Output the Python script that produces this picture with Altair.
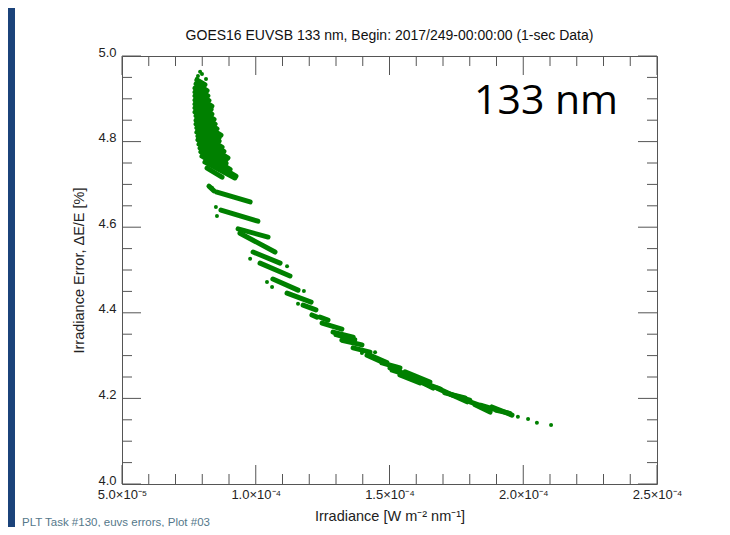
import json
import altair as alt
import pandas as pd

# ---------------- text ----------------
TITLE = "GOES16 EUVSB 133 nm, Begin: 2017/249-00:00:00 (1-sec Data)"
X_TITLE = "Irradiance [W m⁻² nm⁻¹]"
Y_TITLE = "Irradiance Error, ΔE/E [%]"
FOOTER = "PLT Task #130, euvs errors, Plot #03"
BIG_LABEL = "133 nm"

# ---------------- ticks ----------------
x_major = [5e-5, 1.0e-4, 1.5e-4, 2.0e-4, 2.5e-4]
x_major_labels = ["5.0×10⁻⁵", "1.0×10⁻⁴", "1.5×10⁻⁴", "2.0×10⁻⁴", "2.5×10⁻⁴"]
x_minor = [6e-5, 7e-5, 8e-5, 9e-5, 1.1e-4, 1.2e-4, 1.3e-4, 1.4e-4,
           1.6e-4, 1.7e-4, 1.8e-4, 1.9e-4, 2.1e-4, 2.2e-4, 2.3e-4, 2.4e-4]
y_major = [4.0, 4.2, 4.4, 4.6, 4.8, 5.0]
y_minor = [4.05, 4.10, 4.15, 4.25, 4.30, 4.35, 4.45, 4.50, 4.55,
           4.65, 4.70, 4.75, 4.85, 4.90, 4.95]

# ---------------- data (irradiance in units of 1e-5 W m-2 nm-1, error in %) ----------------
# dense runs of samples, given as start/end of each run
seg_x1 = [7.80, 7.77, 7.73, 7.73, 7.73, 7.73, 7.73, 7.73, 7.73, 7.77, 7.77, 7.77, 7.80, 7.80,
          7.84, 7.84, 7.88, 7.92, 7.95, 7.99, 8.10, 8.18,
          8.25, 8.55, 8.70, 9.34, 9.41, 9.90, 10.16, 10.64, 11.17, 11.77, 12.10, 12.40, 12.48,
          12.89, 13.22, 13.64, 14.16, 14.72, 15.02, 15.39, 16.03, 16.78, 18.01, 18.83, 15.58,
          17.07, 18.20,
          13.00, 14.30, 15.10, 16.20, 17.30, 18.40, 19.00]
seg_y1 = [4.944, 4.935, 4.925, 4.916, 4.907, 4.897, 4.888, 4.879, 4.869, 4.860, 4.850, 4.841,
          4.832, 4.822, 4.813, 4.804, 4.794, 4.785, 4.776, 4.766, 4.752, 4.738,
          4.696, 4.682, 4.640, 4.596, 4.586, 4.542, 4.516, 4.479, 4.446, 4.418, 4.395, 4.390,
          4.376, 4.355, 4.336, 4.318, 4.301, 4.283, 4.271, 4.255, 4.243, 4.224, 4.192, 4.180,
          4.262, 4.213, 4.185,
          4.349, 4.300, 4.266, 4.238, 4.209, 4.184, 4.172]
seg_x2 = [8.10, 8.18, 8.21, 8.25, 8.36, 8.33, 8.36, 8.44, 8.48, 8.55, 8.70, 8.63, 8.63, 8.74,
          8.81, 8.96, 8.89, 8.89, 9.04, 9.26, 9.22, 8.74,
          8.44, 9.79, 10.08, 10.46, 10.72, 10.91, 11.28, 11.58, 12.07, 12.25, 12.29, 12.70,
          13.22, 13.64, 13.97, 14.27, 14.72, 15.39, 15.88, 16.14, 16.63, 17.90, 18.64, 19.58,
          16.51, 17.82, 18.76,
          13.70, 14.90, 15.80, 16.90, 18.00, 19.00, 19.50]
seg_y2 = [4.933, 4.919, 4.907, 4.896, 4.883, 4.875, 4.864, 4.852, 4.841, 4.830, 4.815, 4.809,
          4.801, 4.787, 4.777, 4.762, 4.757, 4.749, 4.735, 4.719, 4.715, 4.717,
          4.685, 4.659, 4.614, 4.577, 4.542, 4.516, 4.486, 4.453, 4.425, 4.407, 4.390, 4.383,
          4.362, 4.343, 4.325, 4.308, 4.285, 4.271, 4.250, 4.236, 4.224, 4.192, 4.178, 4.161,
          4.238, 4.201, 4.168,
          4.337, 4.284, 4.252, 4.222, 4.196, 4.173, 4.165]

# isolated samples
dot_x = [7.92, 7.99, 7.84, 8.14, 7.80, 8.36, 8.51, 8.55, 9.79, 11.17, 10.42, 10.61, 11.80,
         11.58, 13.97, 14.46, 19.80, 20.18, 20.51, 21.04]
dot_y = [4.963, 4.958, 4.953, 4.946, 4.946, 4.692, 4.647, 4.626, 4.526, 4.509, 4.472, 4.460,
         4.451, 4.421, 4.306, 4.308, 4.157, 4.152, 4.143, 4.138]

# ---------------- frames ----------------
seg_df = pd.DataFrame({
    "irr": [v * 1e-5 for v in seg_x1], "err": seg_y1,
    "irr2": [v * 1e-5 for v in seg_x2], "err2": seg_y2,
})
dot_df = pd.DataFrame({"irr": [v * 1e-5 for v in dot_x], "err": dot_y})
xmaj_df = pd.DataFrame({"irr": x_major})
xmin_df = pd.DataFrame({"irr": x_minor})
ymaj_df = pd.DataFrame({"err": y_major})
ymin_df = pd.DataFrame({"err": y_minor})

W, H = 535, 428
GREEN = "#008000"
AXC = "#555555"
FONT = "Liberation Sans"

label_expr = (json.dumps(x_major_labels, ensure_ascii=False)
              + "[round(datum.value*1e5/5)-1]")

xscale = alt.Scale(domain=[5e-5, 2.5e-4], nice=False, zero=False)
yscale = alt.Scale(domain=[4.0, 5.0], nice=False, zero=False)

xaxis = alt.Axis(values=x_major, labelExpr=label_expr, grid=False, domain=False,
                 ticks=False, tickSize=0, labelPadding=4, labelFont=FONT,
                 labelFontSize=13, labelColor="#222222", labelFlush=False,
                 labelOverlap=False, title=X_TITLE, titleFont=FONT,
                 titleFontSize=14.5, titleFontWeight="normal", titleColor="#222222",
                 titlePadding=8)
yaxis = alt.Axis(values=y_major, format=".1f", grid=False, domain=False, ticks=False,
                 tickSize=0, labelPadding=6, labelOffset=-4, labelFont=FONT,
                 labelFontSize=13, labelColor="#222222", labelFlush=False,
                 labelOverlap=False, title=Y_TITLE, titleFont=FONT, titleFontSize=14.5,
                 titleFontWeight="normal", titleColor="#222222", titlePadding=11)

X = lambda f="irr": alt.X(f"{f}:Q", scale=xscale, axis=xaxis)
Y = lambda f="err": alt.Y(f"{f}:Q", scale=yscale, axis=yaxis)

segments = alt.Chart(seg_df).mark_rule(
    color=GREEN, strokeWidth=5, strokeCap="round"
).encode(x=X(), y=Y(), x2="irr2:Q", y2="err2:Q")

dots = alt.Chart(dot_df).mark_circle(color=GREEN, size=16, opacity=1).encode(x=X(), y=Y())

def xticks(df, length):
    bottom = alt.Chart(df).mark_rule(color=AXC, strokeWidth=1).encode(
        x=X(), y=alt.value(H), y2=alt.value(H - length))
    top = alt.Chart(df).mark_rule(color=AXC, strokeWidth=1).encode(
        x=X(), y=alt.value(0), y2=alt.value(length))
    return [bottom, top]

def yticks(df, length):
    left = alt.Chart(df).mark_rule(color=AXC, strokeWidth=1).encode(
        y=Y(), x=alt.value(0), x2=alt.value(length))
    right = alt.Chart(df).mark_rule(color=AXC, strokeWidth=1).encode(
        y=Y(), x=alt.value(W), x2=alt.value(W - length))
    return [left, right]

ticks = xticks(xmaj_df, 19) + xticks(xmin_df, 10) + yticks(ymaj_df, 19) + yticks(ymin_df, 10)

text_df = pd.DataFrame({"t": [0]})

title = alt.Chart(text_df).mark_text(
    text=TITLE, font=FONT, fontSize=14, color="#111111", align="center", baseline="middle"
).encode(x=alt.value(W / 2), y=alt.value(-20))

big = alt.Chart(text_df).mark_text(
    text=BIG_LABEL, font="Open Sans", fontSize=41, color="#000000", align="left",
    baseline="alphabetic"
).encode(x=alt.value(352), y=alt.value(58))

footer = alt.Chart(text_df).mark_text(
    text=FOOTER, font=FONT, fontSize=11.5, color="#55788a", align="left",
    baseline="alphabetic"
).encode(x=alt.value(-100), y=alt.value(470))

strip = alt.Chart(text_df).mark_rect(color="#1b437a").encode(
    x=alt.value(-114), x2=alt.value(-107), y=alt.value(-48), y2=alt.value(H + 43))

chart = alt.layer(
    strip, segments, dots, *ticks, title, big, footer
).properties(
    width=W, height=H,
    autosize=alt.AutoSizeParams(type="none"),
    padding={"left": 114, "top": 48, "right": 65, "bottom": 43},
    background="white",
).configure_view(stroke=AXC, strokeWidth=1)

chart.save("out.html", embed_options={"renderer": "svg", "actions": False})
